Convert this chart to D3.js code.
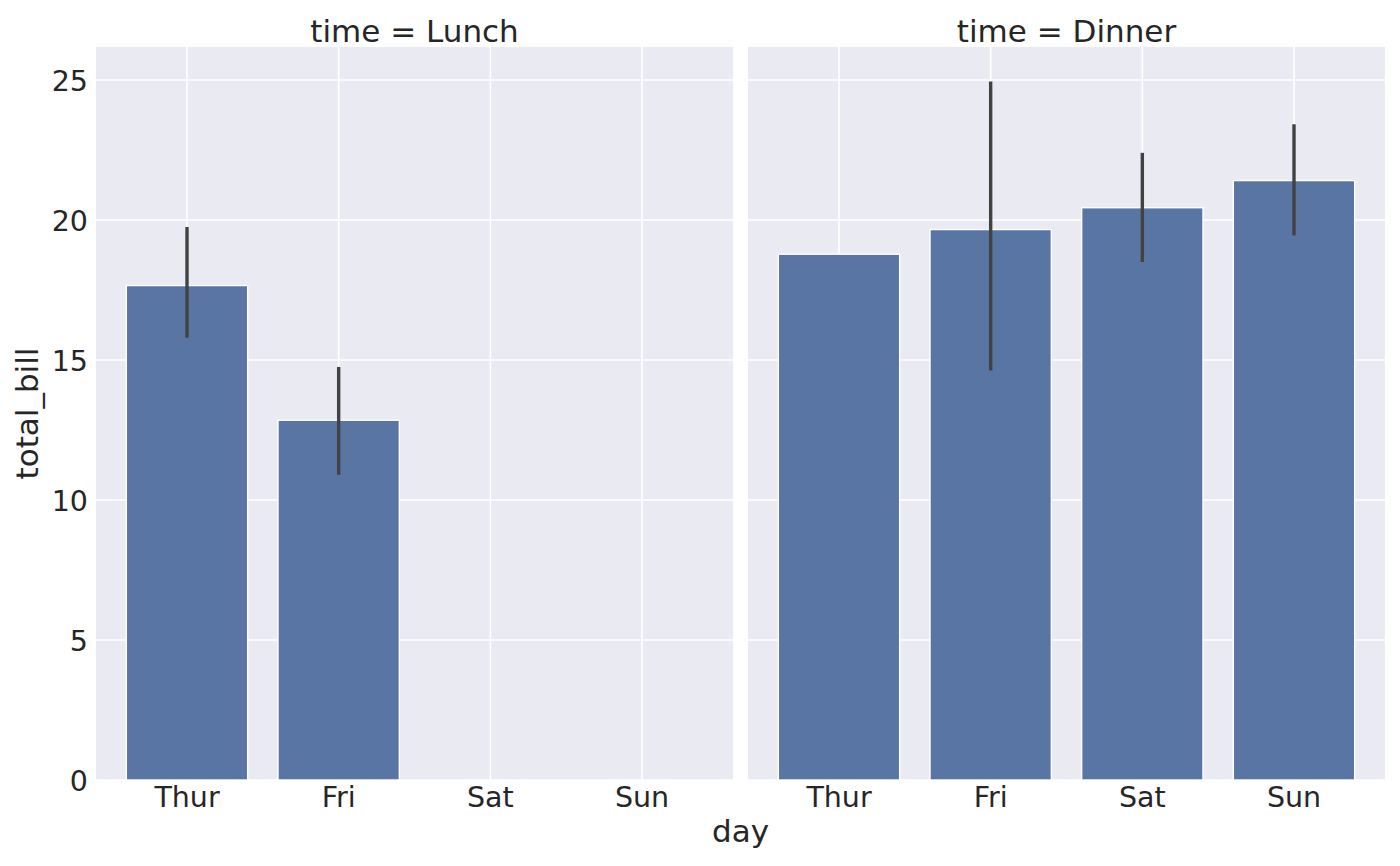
<!DOCTYPE html>
<meta charset="utf-8">
<script src="https://d3js.org/d3.v7.min.js"></script>

<style>
body { margin: 0; background: #fff; }
svg { display: block; }
text { font-family: 'DejaVu Sans', sans-serif; }
.panel-bg { fill: #eaeaf2; }
.grid line { stroke: #fff; stroke-width: 1.6; }
.bar { fill: #5975a4; stroke: #fff; stroke-width: 1.4; }
.err { stroke: #424242; stroke-width: 3.4; }
.tick text { font-size: 28.5px; fill: #262626; }
.title, .label { font-size: 31px; fill: #262626; }
</style>

<svg width="1400" height="866"></svg>

<script>
const days = ['Thur', 'Fri', 'Sat', 'Sun'];
const times = ['Lunch', 'Dinner'];

// mean total_bill per day, with the error bar range (null where no bar)
const lunchMeans = [17.66, 12.85, null, null];
const lunchLow = [15.8, 10.9, null, null];
const lunchHigh = [19.75, 14.75, null, null];

const dinnerMeans = [18.78, 19.66, 20.44, 21.41];
const dinnerLow = [null, 14.63, 18.5, 19.45];
const dinnerHigh = [null, 24.95, 22.4, 23.42];

const yTicks = [0, 5, 10, 15, 20, 25];

const series = {
  Lunch: { means: lunchMeans, low: lunchLow, high: lunchHigh },
  Dinner: { means: dinnerMeans, low: dinnerLow, high: dinnerHigh }
};

const svg = d3.select('svg');

const plotTop = 47, plotBottom = 780;
const panelW = 637;
const panelX = [96, 748];

const y = d3.scaleLinear()
  .domain([0, 26.18])
  .range([plotBottom, plotTop]);

const x = d3.scaleBand()
  .domain(days)
  .range([0, panelW])
  .paddingInner(0.2)
  .paddingOuter(0.2);

times.forEach((t, i) => {
  const s = series[t];
  const g = svg.append('g')
    .attr('transform', `translate(${panelX[i]}, 0)`);

  g.append('rect')
    .attr('class', 'panel-bg')
    .attr('x', 0)
    .attr('y', plotTop)
    .attr('width', panelW)
    .attr('height', plotBottom - plotTop);

  // horizontal grid
  g.append('g')
    .attr('class', 'grid')
    .selectAll('line')
    .data(yTicks)
    .enter().append('line')
    .attr('x1', 0)
    .attr('x2', panelW)
    .attr('y1', (d) => y(d))
    .attr('y2', (d) => y(d));

  // vertical grid
  g.append('g')
    .attr('class', 'grid')
    .selectAll('line')
    .data(days)
    .enter().append('line')
    .attr('x1', (d) => x(d) + x.bandwidth() / 2)
    .attr('x2', (d) => x(d) + x.bandwidth() / 2)
    .attr('y1', plotTop)
    .attr('y2', plotBottom);

  const rows = days.map((d, k) => ({
    day: d, mean: s.means[k], low: s.low[k], high: s.high[k]
  }));

  g.selectAll('.bar')
    .data(rows.filter((r) => r.mean !== null))
    .enter().append('rect')
    .attr('class', 'bar')
    .attr('x', (r) => x(r.day))
    .attr('y', (r) => y(r.mean))
    .attr('width', x.bandwidth())
    .attr('height', (r) => y(0) - y(r.mean));

  g.selectAll('.err')
    .data(rows.filter((r) => r.low !== null))
    .enter().append('line')
    .attr('class', 'err')
    .attr('x1', (r) => x(r.day) + x.bandwidth() / 2)
    .attr('x2', (r) => x(r.day) + x.bandwidth() / 2)
    .attr('y1', (r) => y(r.low))
    .attr('y2', (r) => y(r.high));

  // x axis
  const xa = g.append('g')
    .attr('transform', `translate(0, ${plotBottom})`)
    .call(d3.axisBottom(x).tickSize(0).tickPadding(7));
  xa.select('.domain').remove();

  // y axis on the left panel only
  if (i === 0) {
    const ya = g.append('g')
      .call(d3.axisLeft(y).tickValues(yTicks).tickSize(0).tickPadding(8));
    ya.select('.domain').remove();
    ya.selectAll('text').attr('dy', '0.38em');
  }

  g.append('text')
    .attr('class', 'title')
    .attr('x', panelW / 2)
    .attr('y', 42)
    .attr('text-anchor', 'middle')
    .text(`time = ${t}`);
});

svg.append('text')
  .attr('class', 'label')
  .attr('x', (panelX[0] + panelX[1] + panelW) / 2)
  .attr('y', 842)
  .attr('text-anchor', 'middle')
  .text('day');

svg.append('text')
  .attr('class', 'label')
  .attr('transform', `translate(38, ${(plotTop + plotBottom) / 2}) rotate(-90)`)
  .attr('text-anchor', 'middle')
  .text('total_bill');
</script>
